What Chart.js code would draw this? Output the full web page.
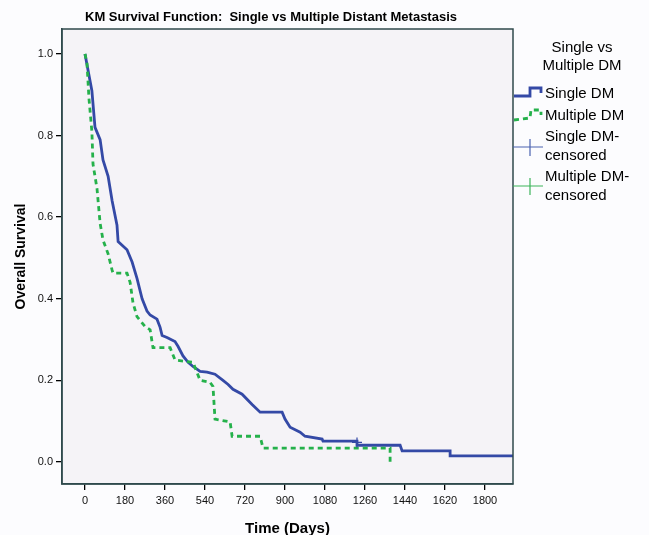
<!DOCTYPE html>
<html>
<head>
<meta charset="utf-8">
<script src="https://cdn.jsdelivr.net/npm/chart.js@4/dist/chart.umd.min.js"></script>
<style>
  html, body { margin: 0; padding: 0; background: #fcfcfe; }
  #wrap { width: 649px; height: 535px; }
</style>
</head>
<body>
<div id="wrap"><canvas id="grafica" width="649" height="535"></canvas></div>
<script>
// Valores (dias, supervivencia)
const tiemposSingle = [0, 31, 45, 68, 81, 104, 122, 144, 149, 189, 212, 234, 257, 279, 293, 324, 338, 347, 369, 405, 419, 441, 464, 486, 518, 549, 585, 621, 644, 666, 707, 752, 788, 887, 900, 923, 968, 990, 1067, 1071, 1224, 1224, 1418, 1427, 1643, 1643, 1926];
const survSingle   = [1.0, 0.91, 0.82, 0.79, 0.74, 0.70, 0.64, 0.58, 0.54, 0.52, 0.49, 0.45, 0.40, 0.37, 0.36, 0.35, 0.33, 0.31, 0.305, 0.295, 0.283, 0.26, 0.244, 0.234, 0.222, 0.22, 0.215, 0.20, 0.19, 0.178, 0.166, 0.141, 0.122, 0.122, 0.105, 0.085, 0.073, 0.063, 0.056, 0.051, 0.051, 0.041, 0.041, 0.027, 0.027, 0.015, 0.015];

const tiemposMultiple = [0, 9, 18, 31, 36, 54, 68, 81, 104, 122, 126, 189, 203, 216, 234, 270, 293, 306, 383, 405, 486, 518, 563, 576, 585, 653, 662, 788, 801, 1373, 1373];
const survMultiple    = [1.0, 0.976, 0.89, 0.81, 0.73, 0.67, 0.585, 0.544, 0.51, 0.47, 0.463, 0.463, 0.44, 0.39, 0.356, 0.332, 0.324, 0.28, 0.28, 0.25, 0.244, 0.20, 0.195, 0.185, 0.105, 0.098, 0.063, 0.063, 0.034, 0.034, 0.0];

const censuradoSingleT = [1224];
const censuradoSingleS = [0.048];

const ticksX = [0, 180, 360, 540, 720, 900, 1080, 1260, 1440, 1620, 1800];
const ticksY = [0, 0.2, 0.4, 0.6, 0.8, 1.0];

const azul = '#3449a6';
const verde = '#25b14b';

const pares = (xs, ys) => xs.map((x, i) => ({ x: x, y: ys[i] }));

// Fondo y marco del area del grafico
const marco = {
  id: 'marco',
  beforeDraw(chart) {
    const { ctx, chartArea: a } = chart;
    ctx.save();
    ctx.fillStyle = '#f5f3f7';
    ctx.fillRect(a.left, a.top, a.right - a.left, a.bottom - a.top);
    ctx.restore();
  },
  afterDraw(chart) {
    const { ctx, chartArea: a } = chart;
    ctx.save();
    ctx.strokeStyle = '#2f4a4c';
    ctx.lineWidth = 1.5;
    ctx.strokeRect(a.left, a.top, a.right - a.left, a.bottom - a.top);

    // titulo
    ctx.fillStyle = '#000';
    ctx.font = 'bold 13px "Liberation Sans", Arial, sans-serif';
    ctx.textAlign = 'center';
    ctx.textBaseline = 'middle';
    ctx.fillText('KM Survival Function:  Single vs Multiple Distant Metastasis', 271, 17);

    // leyenda
    ctx.font = '15px "Liberation Sans", Arial, sans-serif';
    ctx.fillText('Single vs', 582, 48);
    ctx.fillText('Multiple DM', 582, 66);
    ctx.textAlign = 'left';
    const tx = 545;
    ctx.fillText('Single DM', tx, 94);
    ctx.fillText('Multiple DM', tx, 116);
    ctx.fillText('Single DM-', tx, 137);
    ctx.fillText('censored', tx, 156);
    ctx.fillText('Multiple DM-', tx, 177);
    ctx.fillText('censored', tx, 196);

    ctx.lineWidth = 2.8;
    ctx.strokeStyle = azul;
    ctx.beginPath();
    ctx.moveTo(514, 96); ctx.lineTo(530, 96); ctx.lineTo(530, 88); ctx.lineTo(541, 88); ctx.lineTo(541, 93);
    ctx.stroke();
    ctx.strokeStyle = verde;
    ctx.setLineDash([5, 4]);
    ctx.beginPath();
    ctx.moveTo(514, 120); ctx.lineTo(530, 118); ctx.lineTo(531, 110); ctx.lineTo(541, 110); ctx.lineTo(541, 115);
    ctx.stroke();
    ctx.setLineDash([]);

    ctx.lineWidth = 1.2;
    ctx.strokeStyle = '#4a62b0';
    ctx.beginPath();
    ctx.moveTo(513, 147); ctx.lineTo(543, 147);
    ctx.moveTo(530, 139); ctx.lineTo(530, 156);
    ctx.stroke();
    ctx.strokeStyle = '#3cb45a';
    ctx.beginPath();
    ctx.moveTo(513, 186); ctx.lineTo(543, 186);
    ctx.moveTo(530, 178); ctx.lineTo(530, 195);
    ctx.stroke();
    ctx.restore();
  }
};

const $grafica = document.querySelector('#grafica');

new Chart($grafica, {
  type: 'line',
  data: {
    datasets: [
      {
        label: 'Single DM',
        data: pares(tiemposSingle, survSingle),
        borderColor: azul,
        borderWidth: 2.8,
        pointRadius: 0,
        fill: false,
        tension: 0,
        order: 2
      },
      {
        label: 'Multiple DM',
        data: pares(tiemposMultiple, survMultiple),
        borderColor: verde,
        borderWidth: 2.8,
        borderDash: [5, 4],
        pointRadius: 0,
        fill: false,
        tension: 0,
        order: 1
      },
      {
        label: 'Single DM-censored',
        data: pares(censuradoSingleT, censuradoSingleS),
        showLine: false,
        pointStyle: 'cross',
        pointRadius: 5,
        borderColor: azul,
        borderWidth: 1.2,
        order: 0
      }
    ]
  },
  options: {
    responsive: false,
    animation: false,
    layout: { padding: { left: 0, right: 136, top: 29, bottom: 0 } },
    plugins: {
      legend: { display: false },
      title: { display: false },
      tooltip: { enabled: false }
    },
    scales: {
      x: {
        type: 'linear',
        min: -103.5,
        max: 1926,
        afterFit: (s) => { s.height = 51; },
        afterBuildTicks: (s) => { s.ticks = ticksX.map(v => ({ value: v })); },
        ticks: {
          color: '#111',
          padding: 4,
          maxRotation: 0,
          font: { family: '"Liberation Sans", Arial, sans-serif', size: 11 },
          callback: (v) => String(v)
        },
        grid: { drawOnChartArea: false, drawTicks: true, tickLength: 6, color: '#000', lineWidth: 1.3 },
        border: { display: true, color: '#2f4a4c', width: 1.5 },
        title: {
          display: true,
          text: 'Time (Days)',
          color: '#000',
          font: { family: '"Liberation Sans", Arial, sans-serif', size: 15, weight: 'bold' },
          padding: { top: 0, bottom: -3 }
        }
      },
      y: {
        type: 'linear',
        min: -0.054,
        max: 1.061,
        afterFit: (s) => { s.width = 62; },
        afterBuildTicks: (s) => { s.ticks = ticksY.map(v => ({ value: v })); },
        ticks: {
          color: '#111',
          padding: 3,
          font: { family: '"Liberation Sans", Arial, sans-serif', size: 11 },
          callback: (v) => Number(v).toFixed(1)
        },
        grid: { drawOnChartArea: false, drawTicks: true, tickLength: 6, color: '#000', lineWidth: 1.3 },
        border: { display: true, color: '#2f4a4c', width: 1.5 },
        title: {
          display: true,
          text: 'Overall Survival',
          color: '#000',
          font: { family: '"Liberation Sans", Arial, sans-serif', size: 14, weight: 'bold' },
          padding: { top: 13, bottom: 0 }
        }
      }
    }
  },
  plugins: [marco]
});
</script>
</body>
</html>
